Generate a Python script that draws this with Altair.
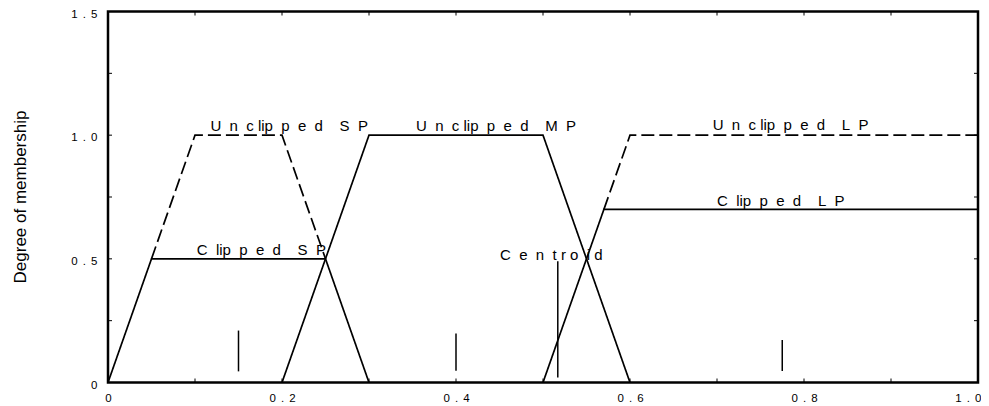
import altair as alt
import pandas as pd

NB = "\u00a0"
G2 = NB + NB

# Membership function polylines (x, y) per series
series_names = ["Clipped SP", "Unclipped SP", "MP", "Clipped LP", "Unclipped LP"]
series_style = ["solid", "dashed", "solid", "solid", "dashed"]
series_x = [
    [0.0, 0.05, 0.25, 0.30],
    [0.05, 0.10, 0.20, 0.25],
    [0.20, 0.30, 0.50, 0.60],
    [0.50, 0.57, 1.00],
    [0.57, 0.60, 1.00],
]
series_y = [
    [0.0, 0.5, 0.5, 0.0],
    [0.5, 1.0, 1.0, 0.5],
    [0.0, 1.0, 1.0, 0.0],
    [0.0, 0.7, 0.7],
    [0.7, 1.0, 1.0],
]

# Short vertical markers (x, y start, y end)
marker_x = [0.15, 0.40, 0.517, 0.775]
marker_y1 = [0.045, 0.048, 0.02, 0.046]
marker_y2 = [0.21, 0.198, 0.49, 0.172]

# Text annotations
label_text = [
    "U" + G2 + "n" + G2 + "c" + NB + "lip" + G2 + "p" + G2 + "e" + G2 + "d" + G2 + G2 + "S" + G2 + "P",
    "C" + G2 + "lip" + G2 + "p" + G2 + "e" + G2 + "d" + G2 + G2 + "S" + G2 + "P",
    "U" + G2 + "n" + G2 + "c" + NB + "lip" + G2 + "p" + G2 + "e" + G2 + "d" + G2 + G2 + "M" + G2 + "P",
    "C" + G2 + "e" + G2 + "n" + G2 + "t" + NB + "r" + NB + "o" + G2 + "i" + NB + "d",
    "U" + G2 + "n" + G2 + "c" + NB + "lip" + G2 + "p" + G2 + "e" + G2 + "d" + G2 + G2 + "L" + G2 + "P",
    "C" + G2 + "lip" + G2 + "p" + G2 + "e" + G2 + "d" + G2 + G2 + "L" + G2 + "P",
]
label_x = [0.1177, 0.102, 0.354, 0.4506, 0.695, 0.700]
label_y = [1.016, 0.516, 1.016, 0.495, 1.02, 0.714]

# Axis ticks / labels
x_label_values = [0.0, 0.2, 0.4, 0.6, 0.8, 1.0]
y_label_values = [0.0, 0.5, 1.0, 1.5]
x_tick_values = [0.1, 0.2, 0.3, 0.4, 0.5, 0.6, 0.7, 0.8, 0.9]
y_tick_values = [0.25, 0.5, 0.75, 1.0, 1.25]

rows = []
for name, style, xs, ys in zip(series_names, series_style, series_x, series_y):
    for i, (xv, yv) in enumerate(zip(xs, ys)):
        rows.append({"series": name, "style": style, "order": i, "x": xv, "y": yv})
lines_df = pd.DataFrame(rows)
markers_df = pd.DataFrame({"x": marker_x, "y1": marker_y1, "y2": marker_y2})
labels_df = pd.DataFrame({"text": label_text, "x": label_x, "y": label_y})
xt_df = pd.DataFrame({"v": x_tick_values})
yt_df = pd.DataFrame({"v": y_tick_values})

FONT = "Liberation Sans"
sep = NB + "\u2006"
lbl_expr = "datum.value == 0 ? '0' : join(split(format(datum.value, '.1f'), ''), '" + sep + "')"

xscale = alt.Scale(domain=[0, 1], nice=False, zero=False)
yscale = alt.Scale(domain=[0, 1.5], nice=False, zero=False)

xaxis = alt.Axis(values=x_label_values, labelExpr=lbl_expr, ticks=False, domain=False,
                 grid=False, labelFont=FONT, labelFontSize=11.5, labelColor="black",
                 labelPadding=10, title=None, labelFlush=False,
                 labelAlign={"condition": {"test": "datum.value >= 1", "value": "right"},
                             "value": "center"},
                 labelOffset={"condition": {"test": "datum.value >= 1", "value": 3},
                              "value": 0})
yaxis = alt.Axis(values=y_label_values, labelExpr=lbl_expr, ticks=False, domain=False,
                 grid=False, labelFont=FONT, labelFontSize=11.5, labelColor="black",
                 labelPadding=11, labelOffset=2.5, title="Degree of membership",
                 titleFont=FONT, titleFontSize=17, titleFontWeight="normal",
                 titleColor="black", titleX=-83, titleY=185, titleBaseline="alphabetic",
                 titleAngle=270, labelFlush=False)

lines = alt.Chart(lines_df).mark_line(color="black", strokeWidth=1.7).encode(
    x=alt.X("x:Q", scale=xscale, axis=xaxis),
    y=alt.Y("y:Q", scale=yscale, axis=yaxis),
    detail="series:N",
    order="order:Q",
    strokeDash=alt.StrokeDash("style:N", scale=alt.Scale(domain=["solid", "dashed"],
                                                        range=[[1, 0], [13, 5]]), legend=None),
)

markers = alt.Chart(markers_df).mark_rule(color="black", strokeWidth=1.5).encode(
    x="x:Q", y="y1:Q", y2="y2:Q"
)

texts = alt.Chart(labels_df).mark_text(align="left", baseline="alphabetic", font=FONT,
                                       fontSize=15, color="black").encode(
    x="x:Q", y="y:Q", text="text:N"
)

tick_bottom = alt.Chart(xt_df).mark_rule(color="black", strokeWidth=1, y2Offset=-4).encode(
    x="v:Q", y=alt.datum(0), y2=alt.datum(0)
)
tick_top = alt.Chart(xt_df).mark_rule(color="black", strokeWidth=1, y2Offset=4).encode(
    x="v:Q", y=alt.datum(1.5), y2=alt.datum(1.5)
)
tick_left = alt.Chart(yt_df).mark_rule(color="black", strokeWidth=1, x2Offset=4).encode(
    y="v:Q", x=alt.datum(0), x2=alt.datum(0)
)
tick_right = alt.Chart(yt_df).mark_rule(color="black", strokeWidth=1, x2Offset=-4).encode(
    y="v:Q", x=alt.datum(1), x2=alt.datum(1)
)

chart = alt.layer(lines, markers, texts, tick_bottom, tick_top, tick_left, tick_right).properties(
    width=870, height=371,
    autosize=alt.AutoSizeParams(type="none"),
    padding={"left": 100, "top": 3.5, "right": 3, "bottom": 21},
    background="white",
).configure_view(stroke="black", strokeWidth=2.5)

chart.save("out.html", embed_options={"renderer": "svg", "actions": False})
